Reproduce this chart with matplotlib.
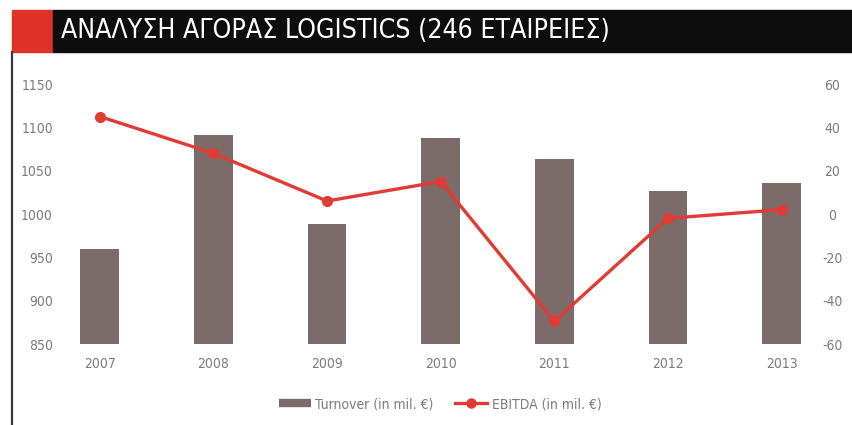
import matplotlib
matplotlib.use("Agg")
import matplotlib.pyplot as plt
import matplotlib.font_manager as fm
from matplotlib.lines import Line2D
from matplotlib.patches import Rectangle

years = ["2007", "2008", "2009", "2010", "2011", "2012", "2013"]
turnover = [960, 1091, 989, 1088, 1063, 1027, 1036]
ebitda = [45, 28, 6, 15, -49.5, -2, 2]
left_ticks = [850, 900, 950, 1000, 1050, 1100, 1150]
right_ticks = [-60, -40, -20, 0, 20, 40, 60]
title = "ΑΝΑΛΥΣΗ ΑΓΟΡΑΣ LOGISTICS (246 ΕΤΑΙΡΕΙΕΣ)"
labels = ["Turnover (in mil. €)", "EBITDA (in mil. €)"]

# pick a narrow face if one is installed
installed = fm.fontManager.ttflist
names = {f.name for f in installed}
if "Liberation Sans Narrow" in names:
    NARROW = dict(family=["Liberation Sans Narrow", "DejaVu Sans"], stretch="normal")
elif any(f.name == "DejaVu Sans" and str(f.stretch) in ("condensed", "semi-condensed")
         for f in installed):
    NARROW = dict(family=["DejaVu Sans"], stretch="condensed")
else:
    NARROW = dict(family=["Roboto", "DejaVu Sans"], stretch="normal")

plt.rcParams["font.family"] = NARROW["family"]
plt.rcParams["font.stretch"] = NARROW["stretch"]
plt.rcParams["axes.unicode_minus"] = False

BAR = "#7b6c6a"
RED = "#e23b33"
TICK = "#7c7c7c"

W, H = 853, 425
fig = plt.figure(figsize=(W / 100, H / 100), dpi=100)
fig.patch.set_facecolor("white")


def px(x0, y0, x1, y1):
    """Figure-fraction rectangle from pixel box (top-left origin)."""
    return [x0 / W, 1 - y1 / H, (x1 - x0) / W, (y1 - y0) / H]


# header band
fig.patches.append(Rectangle((12 / W, 1 - 52 / H), 41 / W, 42 / H,
                             transform=fig.transFigure, color="#e0302a", zorder=0))
fig.patches.append(Rectangle((53 / W, 1 - 52 / H), 800 / W, 42 / H,
                             transform=fig.transFigure, color="#0d0d0d", zorder=0))
fig.lines.append(Line2D([12.5 / W, 12.5 / W], [0, 1 - 52 / H],
                        transform=fig.transFigure, color="#3a3a3a", lw=1.6))

t = fig.text(61 / W, 1 - 31 / H, title, color="white", fontsize=24,
             ha="left", va="center")
fig.canvas.draw()
r = fig.canvas.get_renderer()
w = t.get_window_extent(r).width
t.set_fontsize(24 * 548 / w)

ax = fig.add_axes(px(60, 84, 810, 344))
x = list(range(len(years)))
ax.bar(x, turnover, width=0.34, bottom=0, color=BAR, zorder=2)
ax.set_ylim(850, 1150)
ax.set_xlim(-0.35, 6.25)
ax.set_yticks(left_ticks)
ax.set_xticks(x)
ax.set_xticklabels(years)
ax.tick_params(axis="both", length=0, labelsize=10, labelcolor=TICK)
ax.tick_params(axis="y", pad=5)
ax.tick_params(axis="x", pad=9)
for s in ax.spines.values():
    s.set_visible(False)

ax2 = ax.twinx()
ax2.plot(x, ebitda, color=RED, lw=2.4, marker="o", markersize=7, zorder=3)
ax2.set_ylim(-60, 60)
ax2.set_yticks(right_ticks)
ax2.tick_params(axis="y", length=0, labelsize=10, labelcolor=TICK, pad=16)
for lab in ax2.get_yticklabels():
    lab.set_horizontalalignment("center")
for s in ax2.spines.values():
    s.set_visible(False)

handles = [Line2D([0], [0], color=BAR, lw=6, solid_capstyle="butt"),
           Line2D([0], [0], color=RED, lw=2.4, marker="o", markersize=6.5)]
fig.legend(handles, labels, loc="center", bbox_to_anchor=(440 / W, 1 - 404 / H),
           ncol=2, frameon=False, fontsize=10, handlelength=2.3,
           handletextpad=0.3, columnspacing=1.6, labelcolor=TICK)

fig.savefig("out.png", dpi=100, facecolor="white")
